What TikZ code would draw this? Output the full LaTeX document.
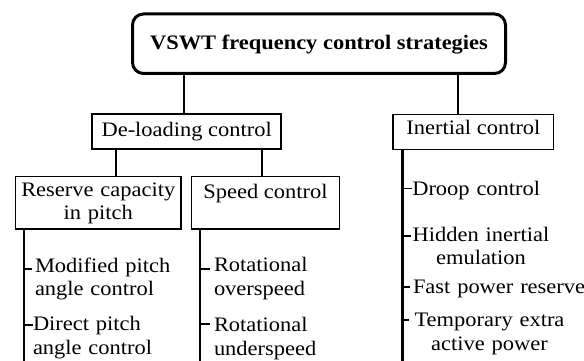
\documentclass[tikz,border=0pt]{standalone}
\usepackage{fontspec}
\setmainfont[FakeStretch=1.09]{Liberation Serif}
\begin{document}
\begin{tikzpicture}[x=1pt,y=-1pt,
  every node/.style={inner sep=0pt, outer sep=0pt, font=\fontsize{20.6}{23.5}\selectfont},
  box/.style={draw, line width=1.8pt, align=center},
  titlebox/.style={draw, line width=3pt, rounded corners=11pt, font=\fontsize{20.6}{23.5}\selectfont\bfseries},
  conn/.style={line width=2pt},
  stem/.style={line width=2.2pt},
  tickmark/.style={line width=1.6pt},
  item/.style={anchor=base west, align=left, text width=200pt},
  citem/.style={anchor=base, align=center, text width=200pt}]
\useasboundingbox (0,0) rectangle (584,361);

% boxes
\node[titlebox, minimum width=373pt, minimum height=59.5pt, text height=14pt, text depth=2.9pt] (title) at (319,43.75) {VSWT frequency control strategies};
\node[box, minimum width=189pt, minimum height=35.2pt, text height=13pt, text depth=3.8pt] (deload) at (186.7,131.4) {De-loading control};
\node[box, minimum width=160.3pt, minimum height=35pt, text height=13pt, text depth=8.4pt] (inertial) at (473.4,132) {Inertial control};
\node[box, text width=165pt, minimum width=165.5pt, minimum height=52.5pt, text height=14pt, text depth=27.5pt] (reserve) at (98.25,202.75) {Reserve capacity\\in pitch};
\node[box, minimum width=148pt, minimum height=52.5pt, text height=14pt, text depth=22.9pt] (speed) at (265.5,202.75) {Speed control};

% connectors between boxes
\draw[conn] (deload.north -| 184,0) -- (title.south -| 184,0);
\draw[conn] (inertial.north -| 458,0) -- (title.south -| 458,0);
\draw[conn] (reserve.north -| 116,0) -- (deload.south -| 116,0);
\draw[conn] (speed.north -| 261.7,0) -- (deload.south -| 261.7,0);

% stems
\coordinate (rs) at (24,361);
\coordinate (ss) at (200,361);
\coordinate (is) at (402.5,361);
\draw[stem] (rs |- reserve.south) -- (rs);
\draw[stem] (ss |- speed.south) -- (ss);
\draw[stem] (is |- inertial.south) -- (is);

% items under reserve capacity
\node[item] (mod) at (35,272.3) {Modified pitch\\angle control};
\node[item] (dir) at (33,330.7) {Direct pitch\\angle control};
\draw[tickmark] (rs |- 0,269) -- ++(8,0);
\draw[tickmark] (rs |- 0,325) -- ++(9,0);

% items under speed control
\node[item] (over) at (214,271.7) {Rotational\\overspeed};
\node[item] (under) at (214,331.7) {Rotational\\underspeed};
\draw[tickmark] (ss |- 0,269) -- ++(10,0);
\draw[tickmark] (ss |- 0,324) -- ++(10,0);

% items under inertial control
\node[item] (droop) at (412.3,195) {Droop control};
\node[citem] (hidden) at (481,241) {Hidden inertial\\emulation};
\node[item] (fast) at (413,293.3) {Fast power reserve};
\node[citem] (temp) at (489.5,326.7) {Temporary extra\\active power};
\draw[tickmark] (is |- 0,188.3) -- ++(9,0);
\draw[tickmark] (is |- 0,235.7) -- ++(8.5,0);
\draw[tickmark] (is |- 0,286.7) -- ++(7,0);
\draw[tickmark] (is |- 0,320) -- ++(6.5,0);
\end{tikzpicture}
\end{document}
